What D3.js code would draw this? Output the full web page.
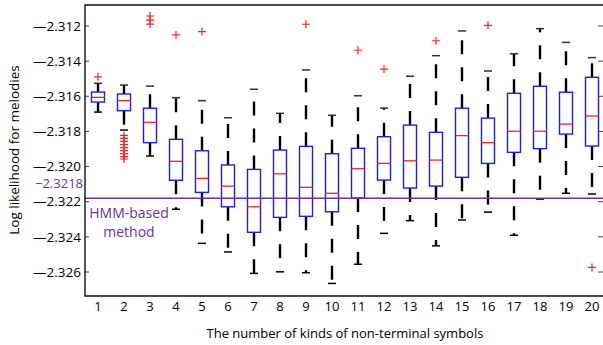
<!DOCTYPE html>
<html>
<head>
<meta charset="utf-8">
<script src="https://cdn.jsdelivr.net/npm/d3@7"></script>
<style>
body { margin: 0; background: #fff; }
text { font-family: "Open Sans", sans-serif; }
</style>
</head>
<body>
<div id="main"></div>
<script>
// number of kinds of non-terminal symbols
var kinds = [1, 2, 3, 4, 5, 6, 7, 8, 9, 10, 11, 12, 13, 14, 15, 16, 17, 18, 19, 20];
var whiskerHigh = [-2.31526, -2.31536, -2.31542, -2.31608, -2.31625, -2.31722, -2.3156, -2.31697, -2.3145, -2.31708,
    -2.31597, -2.31667, -2.31486, -2.31369, -2.31228, -2.31456, -2.31358, -2.31215, -2.31293, -2.3138];
var q3 = [-2.31576, -2.31587, -2.31668, -2.31845, -2.3191, -2.31991, -2.32016, -2.31906, -2.31885, -2.31927,
    -2.31896, -2.3183, -2.31764, -2.31805, -2.31668, -2.31724, -2.31583, -2.31543, -2.31577, -2.31492];
var medians = [-2.31606, -2.31625, -2.31748, -2.3197, -2.32067, -2.32111, -2.32229, -2.32041, -2.32118, -2.32152,
    -2.32012, -2.31982, -2.31967, -2.31963, -2.31824, -2.31864, -2.31799, -2.31799, -2.31758, -2.31712];
var q1 = [-2.31633, -2.31682, -2.31864, -2.32078, -2.32147, -2.32229, -2.32374, -2.32289, -2.32283, -2.32257,
    -2.32179, -2.32077, -2.32122, -2.32111, -2.32061, -2.31982, -2.31919, -2.31898, -2.31815, -2.31883];
var whiskerLow = [-2.3169, -2.31792, -2.3194, -2.32243, -2.32437, -2.32486, -2.32608, -2.32599, -2.32604, -2.32665,
    -2.32556, -2.3238, -2.32308, -2.32451, -2.32304, -2.32259, -2.32391, -2.32185, -2.32152, -2.32156];
var outliers = [
    [-2.31489],
    [-2.31823, -2.3184, -2.31857, -2.31875, -2.31892, -2.31909, -2.31926, -2.31943, -2.31957],
    [-2.31143, -2.31166, -2.31189],
    [-2.31251],
    [-2.31232],
    [], [], [],
    [-2.3119],
    [],
    [-2.31338],
    [-2.31445],
    [],
    [-2.31284],
    [],
    [-2.31196],
    [], [], [],
    [-2.32574]
];
var yTicks = [-2.312, -2.314, -2.316, -2.318, -2.320, -2.322, -2.324, -2.326];
var hmmValue = -2.3218;

var width = 603, height = 345;
var plot = {l: 85, r: 605, t: 5, b: 296};

var svg = d3.select('#main').append('svg')
    .attr('width', width)
    .attr('height', height);

var xScale = d3.scaleLinear().domain([0.5, 20.5]).range([plot.l, plot.r]);
var yScale = d3.scaleLinear().domain([-2.312, -2.326]).range([26, 272]);

var boxes = kinds.map(function(k, i) {
    return {k: k, hi: whiskerHigh[i], q3: q3[i], med: medians[i], q1: q1[i], lo: whiskerLow[i], out: outliers[i]};
});

var boxW = 13, capW = 8;

// ticks inside the left and right edges
svg.append('g').selectAll('line')
    .data(yTicks)
    .enter().append('line')
    .attr('x1', plot.l).attr('x2', plot.l + 4)
    .attr('y1', function(d) { return yScale(d); })
    .attr('y2', function(d) { return yScale(d); })
    .attr('stroke', '#444').attr('stroke-width', 1);
svg.append('g').selectAll('line')
    .data(yTicks)
    .enter().append('line')
    .attr('x1', plot.r - 7).attr('x2', plot.r)
    .attr('y1', function(d) { return yScale(d); })
    .attr('y2', function(d) { return yScale(d); })
    .attr('stroke', '#444').attr('stroke-width', 1);

// y tick labels
svg.append('g').selectAll('text')
    .data(yTicks)
    .enter().append('text')
    .attr('x', 81)
    .attr('y', function(d) { return yScale(d); })
    .attr('dy', '0.35em')
    .attr('text-anchor', 'end')
    .style('font-size', '13.5px')
    .text(function(d) { return '\u2014' + d3.format('.3f')(-d); });

// x tick labels
svg.append('g').selectAll('text')
    .data(kinds)
    .enter().append('text')
    .attr('x', function(d) { return xScale(d); })
    .attr('y', 306)
    .attr('dy', '0.35em')
    .attr('text-anchor', 'middle')
    .style('font-size', '13px')
    .text(function(d) { return d; });

var g = svg.append('g').selectAll('g')
    .data(boxes)
    .enter().append('g');

// whiskers (dashed)
g.append('line')
    .attr('x1', function(d) { return xScale(d.k); })
    .attr('x2', function(d) { return xScale(d.k); })
    .attr('y1', function(d) { return yScale(d.q3); })
    .attr('y2', function(d) { return yScale(d.hi); })
    .attr('stroke', '#000').attr('stroke-width', 2.4)
    .attr('stroke-dasharray', '14,13');
g.append('line')
    .attr('x1', function(d) { return xScale(d.k); })
    .attr('x2', function(d) { return xScale(d.k); })
    .attr('y1', function(d) { return yScale(d.q1); })
    .attr('y2', function(d) { return yScale(d.lo); })
    .attr('stroke', '#000').attr('stroke-width', 2.4)
    .attr('stroke-dasharray', '14,13');

// caps
g.append('line')
    .attr('x1', function(d) { return xScale(d.k) - capW / 2; })
    .attr('x2', function(d) { return xScale(d.k) + capW / 2; })
    .attr('y1', function(d) { return yScale(d.hi); })
    .attr('y2', function(d) { return yScale(d.hi); })
    .attr('stroke', '#333').attr('stroke-width', 1.5);
g.append('line')
    .attr('x1', function(d) { return xScale(d.k) - capW / 2; })
    .attr('x2', function(d) { return xScale(d.k) + capW / 2; })
    .attr('y1', function(d) { return yScale(d.lo); })
    .attr('y2', function(d) { return yScale(d.lo); })
    .attr('stroke', '#000').attr('stroke-width', 1.5);

// boxes
g.append('rect')
    .attr('x', function(d) { return xScale(d.k) - boxW / 2; })
    .attr('y', function(d) { return yScale(d.q3); })
    .attr('width', boxW)
    .attr('height', function(d) { return yScale(d.q1) - yScale(d.q3); })
    .attr('fill', '#fff')
    .attr('stroke', '#1a1aff').attr('stroke-width', 1.4);

// medians
g.append('line')
    .attr('x1', function(d) { return xScale(d.k) - boxW / 2; })
    .attr('x2', function(d) { return xScale(d.k) + boxW / 2; })
    .attr('y1', function(d) { return yScale(d.med); })
    .attr('y2', function(d) { return yScale(d.med); })
    .attr('stroke', '#ff2020').attr('stroke-width', 1.3);

// outliers
g.selectAll('path.out')
    .data(function(d) { return d.out.map(function(v) { return {k: d.k, v: v}; }); })
    .enter().append('path')
    .attr('class', 'out')
    .attr('d', function(d) {
        var cx = xScale(d.k), cy = yScale(d.v);
        return 'M' + (cx - 4) + ',' + cy + 'H' + (cx + 4) + 'M' + cx + ',' + (cy - 4) + 'V' + (cy + 4);
    })
    .attr('stroke', '#ff2020').attr('stroke-width', 1.2).attr('fill', 'none');

// HMM-based method line
var purple = '#7030a0';
svg.append('line')
    .attr('x1', plot.l).attr('x2', plot.r)
    .attr('y1', yScale(hmmValue)).attr('y2', yScale(hmmValue))
    .attr('stroke', purple).attr('stroke-width', 1.6);
svg.append('text')
    .attr('x', 83)
    .attr('y', yScale(hmmValue) - 15)
    .attr('dy', '0.35em')
    .attr('text-anchor', 'end')
    .attr('fill', purple)
    .style('font-size', '13px')
    .text('\u2212' + (-hmmValue));
svg.append('text')
    .attr('x', 129).attr('y', 213)
    .attr('dy', '0.35em')
    .attr('text-anchor', 'middle')
    .attr('fill', purple)
    .style('font-size', '14px')
    .text('HMM-based');
svg.append('text')
    .attr('x', 129).attr('y', 232)
    .attr('dy', '0.35em')
    .attr('text-anchor', 'middle')
    .attr('fill', purple)
    .style('font-size', '14px')
    .text('method');

// frame: left, top, bottom
svg.append('path')
    .attr('d', 'M' + plot.r + ',' + plot.t + 'H' + plot.l + 'V' + plot.b + 'H' + plot.r)
    .attr('fill', 'none')
    .attr('stroke', '#111').attr('stroke-width', 1.4);

// axis titles
svg.append('text')
    .attr('transform', 'translate(14,150) rotate(-90)')
    .attr('dy', '0.35em')
    .attr('text-anchor', 'middle')
    .style('font-size', '13.5px')
    .text('Log likelihood for melodies');
svg.append('text')
    .attr('x', 345).attr('y', 333)
    .attr('dy', '0.35em')
    .attr('text-anchor', 'middle')
    .style('font-size', '13px')
    .text('The number of kinds of non-terminal symbols');
</script>
</body>
</html>
